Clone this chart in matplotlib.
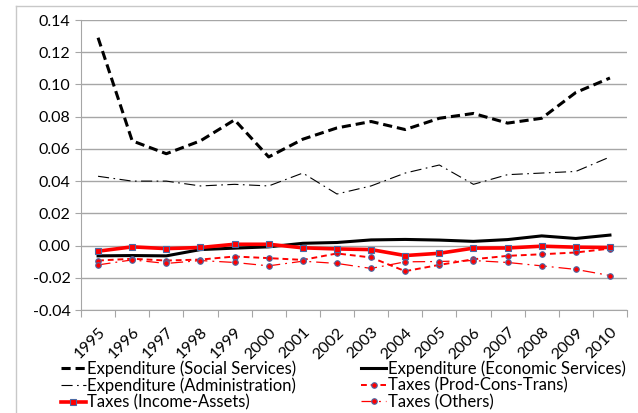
import matplotlib.pyplot as plt
from matplotlib.lines import Line2D

plt.rcParams['font.family'] = ['Lato', 'DejaVu Sans']

years = ["1995", "1996", "1997", "1998", "1999", "2000", "2001", "2002",
         "2003", "2004", "2005", "2006", "2007", "2008", "2009", "2010"]

social = [0.129, 0.065, 0.057, 0.065, 0.078, 0.055, 0.066, 0.073,
          0.077, 0.072, 0.079, 0.082, 0.076, 0.079, 0.095, 0.104]
economic = [-0.0064, -0.0062, -0.0064, -0.0025, -0.0016, -0.0008, 0.0014, 0.0019,
            0.0035, 0.0038, 0.0034, 0.0026, 0.0037, 0.0060, 0.0044, 0.0065]
admin = [0.043, 0.040, 0.040, 0.037, 0.038, 0.037, 0.045, 0.032,
         0.037, 0.045, 0.050, 0.038, 0.044, 0.045, 0.046, 0.055]
prod_cons = [-0.0093, -0.0082, -0.0093, -0.0087, -0.0068, -0.0078, -0.0089, -0.0049,
             -0.0074, -0.0159, -0.0120, -0.0085, -0.0064, -0.0054, -0.0043, -0.0019]
income = [-0.0035, -0.0008, -0.0019, -0.0012, 0.0008, 0.0008, -0.0014, -0.0021,
          -0.0025, -0.0062, -0.0048, -0.0016, -0.0015, -0.0004, -0.0010, -0.0012]
others = [-0.0120, -0.0089, -0.0111, -0.0093, -0.0105, -0.0126, -0.0097, -0.0111,
          -0.0142, -0.0101, -0.0099, -0.0093, -0.0105, -0.0126, -0.0148, -0.0186]

labels = ["Expenditure (Social Services)", "Expenditure (Economic Services)",
          "Expenditure (Administration)", "Taxes (Prod-Cons-Trans)",
          "Taxes (Income-Assets)", "Taxes (Others)"]

fig = plt.figure(figsize=(6.38, 4.13), dpi=100)
ax = fig.add_axes([81/638, 1 - 310/413, (627 - 81)/638, (310 - 20)/413])

x = list(range(len(years)))
blue = '#4a6aa5'
h_social, = ax.plot(x, social, color='black', lw=2.2, ls=(0, (3, 1.6)))
h_econ, = ax.plot(x, economic, color='black', lw=2.2)
h_admin, = ax.plot(x, admin, color='black', lw=0.8, ls=(0, (10, 4, 1.5, 4)))
h_prod, = ax.plot(x, prod_cons, color='red', lw=1.4, ls=(0, (3, 2)),
                  marker='o', ms=4, mfc='red', mec=blue, mew=0.8)
h_income, = ax.plot(x, income, color='red', lw=2.6,
                    marker='s', ms=5, mfc='red', mec=blue, mew=0.8)
h_others, = ax.plot(x, others, color='red', lw=0.9, ls=(0, (10, 4, 1.5, 4)),
                    marker='o', ms=4, mfc='red', mec=blue, mew=0.8)

ax.set_xlim(-0.5, len(years) - 0.5)
ax.set_ylim(-0.04, 0.14)
ax.set_yticks([i * 0.02 for i in range(-2, 8)])
ax.yaxis.set_major_formatter(plt.FormatStrFormatter('%.2f'))
ax.grid(axis='y', color='#a6a6a6', lw=1)
ax.set_axisbelow(True)

ax.set_xticks([i - 0.5 for i in range(len(years) + 1)])
ax.set_xticklabels([])
ax.set_xticks(x, minor=True)
ax.set_xticklabels(years, minor=True, rotation=45, ha='right',
                   rotation_mode='anchor', fontsize=11.5)
ax.tick_params(axis='x', which='minor', length=0, pad=11)
ax.tick_params(axis='x', which='major', length=5, color='#a6a6a6')
ax.tick_params(axis='y', length=4, color='#a6a6a6', labelsize=11.5)

for s in ['top', 'right']:
    ax.spines[s].set_visible(False)
for s in ['left', 'bottom']:
    ax.spines[s].set_color('#a6a6a6')

handles = [h_social, h_admin, h_income, h_econ, h_prod, h_others]
names = [labels[0], labels[2], labels[4], labels[1], labels[3], labels[5]]
fig.legend(handles, names, ncol=2, loc='lower left',
           bbox_to_anchor=(49/638, -0.022), frameon=False, fontsize=12,
           handlelength=1.5, handletextpad=0.1, columnspacing=3.9,
           labelspacing=0.02, borderpad=0.2)

fig.add_artist(Line2D([16/638, 16/638], [0, 1 - 6/413], color='#c8c8c8', lw=1))
fig.add_artist(Line2D([16/638, 1], [1 - 6/413, 1 - 6/413], color='#c8c8c8', lw=1))

fig.savefig('out.png', dpi=100)
